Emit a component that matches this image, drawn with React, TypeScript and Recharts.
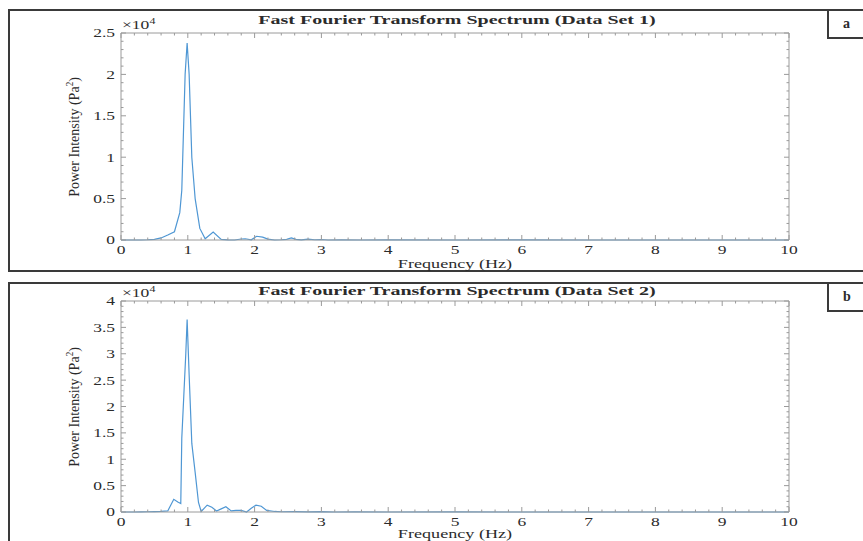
import { LineChart, Line, XAxis, YAxis, ReferenceLine } from 'recharts';

// Data set 1: frequency (Hz) and power (Pa^2)
const freq1 = [0, 0.1, 0.2, 0.3, 0.4, 0.5, 0.6, 0.7, 0.8, 0.88, 0.91, 0.96, 0.99, 1.02, 1.06, 1.11, 1.18, 1.26, 1.38, 1.5, 1.6, 1.7, 1.8, 1.86, 1.95, 2.03, 2.12, 2.2, 2.3, 2.4, 2.48, 2.55, 2.62, 2.7, 2.8, 2.9, 3.0, 3.1, 3.3, 3.6, 4, 5, 6, 7, 8, 9, 10];
const power1 = [0, 0, 0, 0, 30, 80, 250, 600, 1000, 3300, 6000, 20000, 23800, 20000, 10000, 5000, 1400, 150, 950, 80, 20, 0, 120, 150, 30, 450, 350, 100, 0, 30, 80, 250, 80, 20, 100, 30, 60, 0, 20, 0, 10, 0, 10, 0, 0, 0, 0];

// Data set 2
const freq2 = [0, 0.1, 0.2, 0.3, 0.4, 0.5, 0.6, 0.7, 0.79, 0.85, 0.895, 0.91, 0.94, 0.97, 0.99, 1.02, 1.06, 1.11, 1.16, 1.2, 1.29, 1.36, 1.43, 1.5, 1.57, 1.65, 1.72, 1.8, 1.88, 1.95, 2.02, 2.1, 2.18, 2.3, 2.4, 2.6, 2.8, 3.0, 3.2, 3.5, 4, 5, 6, 7, 8, 9, 10];
const power2 = [0, 0, 0, 20, 50, 80, 120, 200, 2400, 1900, 1600, 14000, 22000, 30000, 36500, 26000, 13000, 7500, 1800, 100, 1300, 900, 200, 600, 1000, 200, 300, 300, 0, 700, 1300, 1100, 300, 100, 50, 80, 40, 60, 0, 20, 0, 10, 0, 0, 0, 0, 0];

const titles = ['Fast Fourier Transform Spectrum (Data Set 1)', 'Fast Fourier Transform Spectrum (Data Set 2)'];
const panelLetters = ['a', 'b'];
const yMax = [25000, 40000];

// ticks: major every 1 Hz / 0.5e4, minor every 0.2 Hz / 0.1e4
const xTicks = Array.from({ length: 51 }, (_, i) => Math.round(i * 2) / 10);
const yTicks1 = Array.from({ length: 26 }, (_, i) => i * 1000);
const yTicks2 = Array.from({ length: 41 }, (_, i) => i * 1000);

const FONT = '"Liberation Serif", "DejaVu Serif", serif';
const TEXT = '#2b2b2b';
const AXIS = '#9a9a9a';
const LINE = '#4f97d4';
const SX = 1.4;

const W = 863;
const LEFT = 121;
const RIGHT = 74;
const PLOT_W = W - LEFT - RIGHT;

function makeXTick(plotH: number) {
  return (props: any) => {
    const { x, y, payload } = props;
    const v = payload.value;
    const major = Math.abs(v - Math.round(v)) < 1e-6;
    const len = major ? 5 : 2.5;
    return (
      <g>
        <line x1={x} x2={x} y1={y} y2={y - len} stroke={AXIS} />
        <line x1={x} x2={x} y1={y - plotH} y2={y - plotH + len} stroke={AXIS} />
        {major && (
          <text transform={`translate(${x},${y + 13.5}) scale(${SX},1)`} textAnchor="middle" fontFamily={FONT} fontSize={12.5} fill={TEXT}>
            {Math.round(v)}
          </text>
        )}
      </g>
    );
  };
}

function makeYTick() {
  return (props: any) => {
    const { x, y, payload } = props;
    const v = payload.value;
    const major = v % 5000 === 0;
    const len = major ? 5 : 2.5;
    return (
      <g>
        <line x1={x} x2={x + len} y1={y} y2={y} stroke={AXIS} />
        <line x1={x + PLOT_W} x2={x + PLOT_W - len} y1={y} y2={y} stroke={AXIS} />
        {major && (
          <text transform={`translate(${x - 6},${y}) scale(${SX},1)`} textAnchor="end" dy="0.35em" fontFamily={FONT} fontSize={12.5} fill={TEXT}>
            {v / 10000}
          </text>
        )}
      </g>
    );
  };
}

interface PanelProps {
  idx: number;
  top: number;
  height: number;
  mTop: number;
  mBottom: number;
  titleGap: number;
  labelGap: number;
  freq: number[];
  power: number[];
  yTicks: number[];
}

function Panel({ idx, top, height, mTop, mBottom, titleGap, labelGap, freq, power, yTicks }: PanelProps) {
  const data = freq.map((f, i) => ({ f, p: power[i] }));
  const plotH = height - mTop - mBottom;
  const plotTop = top + mTop;
  const plotBottom = top + mTop + plotH;
  const midY = (plotTop + plotBottom) / 2;
  const txt = { position: 'absolute' as const, whiteSpace: 'nowrap' as const, fontFamily: FONT, color: TEXT, lineHeight: 1 };

  return (
    <>
      <div style={{ position: 'absolute', left: 0, top }}>
        <LineChart width={W} height={height} data={data} margin={{ top: mTop, right: RIGHT, bottom: mBottom - 1, left: LEFT - 1 }}>
          <XAxis
            dataKey="f"
            type="number"
            domain={[0, 10]}
            ticks={xTicks}
            interval={0}
            height={1}
            tickSize={0}
            tickMargin={0}
            tickLine={false}
            axisLine={{ stroke: AXIS }}
            tick={makeXTick(plotH)}
          />
          <YAxis
            type="number"
            domain={[0, yMax[idx]]}
            ticks={yTicks}
            interval={0}
            width={1}
            tickSize={0}
            tickMargin={0}
            tickLine={false}
            axisLine={{ stroke: AXIS }}
            tick={makeYTick()}
          />
          <ReferenceLine y={yMax[idx]} stroke={AXIS} />
          <ReferenceLine x={10} stroke={AXIS} />
          <Line type="linear" dataKey="p" stroke={LINE} strokeWidth={1.2} dot={false} isAnimationActive={false} />
        </LineChart>
      </div>
      <div style={{ ...txt, left: 457, top: plotTop - titleGap, fontSize: 13.5, fontWeight: 700, transform: `translate(-50%,-50%) scaleX(1.48)` }}>
        {titles[idx]}
      </div>
      <div style={{ ...txt, left: 122, top: plotTop - 16, fontSize: 12.5, transformOrigin: 'left center', transform: `scaleX(${SX})` }}>
        ×10<sup style={{ fontSize: 8.5 }}>4</sup>
      </div>
      <div style={{ ...txt, left: 74, top: midY, fontSize: 14, transform: 'translate(-50%,-50%) rotate(-90deg) scaleY(1.05)' }}>
        Power Intensity (Pa<sup style={{ fontSize: 9 }}>2</sup>)
      </div>
      <div style={{ ...txt, left: 455, top: plotBottom + labelGap, fontSize: 12.5, transform: `translate(-50%,-50%) scaleX(1.45)` }}>
        Frequency (Hz)
      </div>
    </>
  );
}

export default function App() {
  return (
    <div style={{ position: 'absolute', left: 0, top: 0, width: W, height: 541, overflow: 'hidden', background: '#fff' }}>
      {/* panel frames */}
      <div style={{ position: 'absolute', left: 8, top: 9, width: 900, height: 263, border: '2px solid #3a3a3a', boxSizing: 'border-box' }} />
      <div style={{ position: 'absolute', left: 8, top: 282, width: 900, height: 300, border: '2px solid #3a3a3a', boxSizing: 'border-box' }} />
      {[9, 282].map((t, i) => (
        <div
          key={i}
          style={{
            position: 'absolute', left: 827, top: t, width: 80, height: 30, border: '2px solid #3a3a3a', boxSizing: 'border-box',
            fontFamily: FONT, fontWeight: 700, fontSize: 14, color: TEXT, paddingLeft: 14, paddingTop: 5,
          }}
        >
          {panelLetters[i]}
        </div>
      ))}
      <Panel idx={0} top={0} height={275} mTop={33} mBottom={35} titleGap={13} labelGap={24} freq={freq1} power={power1} yTicks={yTicks1} />
      <Panel idx={1} top={275} height={266} mTop={26} mBottom={29} titleGap={10} labelGap={21.5} freq={freq2} power={power2} yTicks={yTicks2} />
    </div>
  );
}
